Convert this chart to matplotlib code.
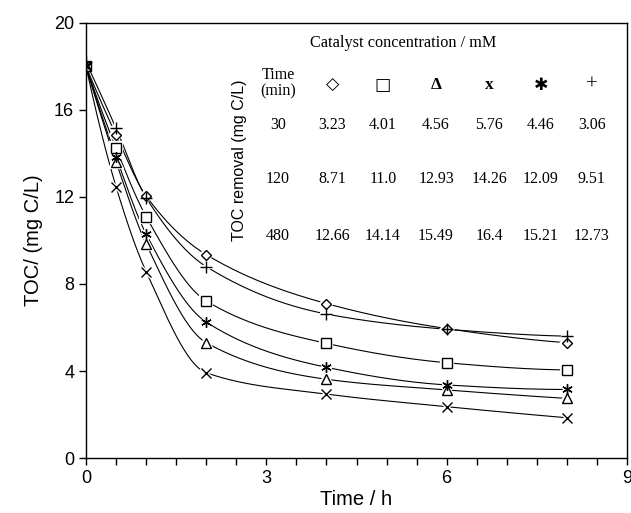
import numpy as np
import matplotlib
matplotlib.use("Agg")
import matplotlib.pyplot as plt
from matplotlib.ticker import MultipleLocator

# TOC vs time for each catalyst concentration
time_h = [0, 0.5, 1, 2, 4, 6, 8]
toc_diamond = [18.0, 14.85, 12.05, 9.35, 7.1, 5.95, 5.3]
toc_square = [18.0, 14.25, 11.1, 7.22, 5.27, 4.38, 4.05]
toc_triangle = [18.0, 13.62, 9.85, 5.3, 3.62, 3.13, 2.74]
toc_cross = [18.0, 12.47, 8.57, 3.92, 2.94, 2.36, 1.85]
toc_star = [18.0, 13.85, 10.3, 6.25, 4.17, 3.36, 3.15]
toc_plus = [18.2, 15.16, 11.97, 8.8, 6.62, 5.92, 5.6]

# inset table
table_times = ["30", "120", "480"]
table_symbols = ["\u25C7", "\u25A1", "\u0394", "x", "\u2731", "+"]
table_values = [
    ["3.23", "4.01", "4.56", "5.76", "4.46", "3.06"],
    ["8.71", "11.0", "12.93", "14.26", "12.09", "9.51"],
    ["12.66", "14.14", "15.49", "16.4", "15.21", "12.73"],
]


def pchip(x, y, xs):
    # monotone cubic curve through the points (smooth line like the original)
    x = np.asarray(x, float)
    y = np.asarray(y, float)
    h = np.diff(x)
    d = np.diff(y) / h
    n = len(x)
    m = np.zeros(n)
    for k in range(1, n - 1):
        if d[k - 1] * d[k] > 0:
            w1 = 2 * h[k] + h[k - 1]
            w2 = h[k] + 2 * h[k - 1]
            m[k] = (w1 + w2) / (w1 / d[k - 1] + w2 / d[k])
    m[0] = ((2 * h[0] + h[1]) * d[0] - h[0] * d[1]) / (h[0] + h[1])
    if np.sign(m[0]) != np.sign(d[0]):
        m[0] = 0
    m[-1] = ((2 * h[-1] + h[-2]) * d[-1] - h[-1] * d[-2]) / (h[-1] + h[-2])
    if np.sign(m[-1]) != np.sign(d[-1]):
        m[-1] = 0
    idx = np.clip(np.searchsorted(x, xs) - 1, 0, n - 2)
    t = (xs - x[idx]) / h[idx]
    h00 = 2 * t**3 - 3 * t**2 + 1
    h10 = t**3 - 2 * t**2 + t
    h01 = -2 * t**3 + 3 * t**2
    h11 = t**3 - t**2
    return h00 * y[idx] + h10 * h[idx] * m[idx] + h01 * y[idx + 1] + h11 * h[idx] * m[idx + 1]


fig = plt.figure(figsize=(6.31, 5.13), dpi=100)
ax = fig.add_axes([0.1363, 0.1072, 0.8574, 0.848])

series = [
    (toc_diamond, "D", 5, "white"),
    (toc_square, "s", 7, "white"),
    (toc_triangle, "^", 7, "white"),
    (toc_cross, "x", 6.5, "none"),
    (toc_star, (6, 2, 0), 7.5, "none"),
    (toc_plus, "+", 9, "none"),
]

xs = np.linspace(0, 8, 400)
for vals, mk, ms, fc in series:
    ax.plot(xs, pchip(time_h, vals, xs), color="black", lw=0.8, zorder=2)
    # small white halo so the line stops short of the marker, as in the original
    ax.plot(time_h[1:], vals[1:], ls="none", marker=mk, ms=ms, mfc="none",
            mec="white", mew=3.0, zorder=2.5)
    ax.plot(time_h, vals, ls="none", marker=mk, ms=ms, mfc=fc, mec="black",
            mew=1.0, zorder=3)

ax.set_xlim(0, 9)
ax.set_ylim(0, 20)
ax.xaxis.set_major_locator(MultipleLocator(3))
ax.xaxis.set_minor_locator(MultipleLocator(0.5))
ax.yaxis.set_major_locator(MultipleLocator(4))
ax.tick_params(axis="both", which="major", direction="out", length=5, width=1,
               labelsize=13)
ax.tick_params(axis="x", which="minor", direction="out", length=5, width=1)
for lab in ax.get_xticklabels() + ax.get_yticklabels():
    lab.set_fontfamily("Liberation Sans")
for sp in ax.spines.values():
    sp.set_linewidth(1.0)
    sp.set_zorder(4)

ax.set_xlabel("Time / h", fontsize=14.5, family="Liberation Sans", labelpad=2)
ax.set_ylabel("TOC/ (mg C/L)", fontsize=14.5, family="Liberation Sans", labelpad=8)

# inset table drawn as text
serif = ["Liberation Serif", "DejaVu Sans"]
tr = ax.transAxes
col_x = [0.455, 0.549, 0.647, 0.745, 0.841, 0.935]
row_y = [0.766, 0.641, 0.510]
sym_size = [12.5, 12.5, 12.5, 12.5, 12.5, 15]

ax.text(0.586, 0.954, "Catalyst concentration / mM", transform=tr, ha="center",
        va="center", fontsize=11.7, family=serif)
ax.text(0.283, 0.685, "TOC removal (mg C/L)", transform=tr, ha="center",
        va="center", rotation=90, fontsize=11.5, family="Liberation Sans")
ax.text(0.355, 0.862, "Time\n(min)", transform=tr, ha="center", va="center",
        fontsize=11.5, family=serif, linespacing=1.0)
for cx, sym, fs in zip(col_x, table_symbols, sym_size):
    bold = sym in ("\u0394", "x")
    fam = serif if bold or sym == "+" else ["DejaVu Sans"]
    ax.text(cx, 0.857, sym, transform=tr, ha="center", va="center",
            fontsize=fs, family=fam, weight="bold" if bold else "normal")
for ry, tm, vals in zip(row_y, table_times, table_values):
    ax.text(0.355, ry, tm, transform=tr, ha="center", va="center",
            fontsize=11.5, family=serif)
    for cx, v in zip(col_x, vals):
        ax.text(cx, ry, v, transform=tr, ha="center", va="center",
                fontsize=11.5, family=serif)

fig.savefig("out.png", dpi=100)
